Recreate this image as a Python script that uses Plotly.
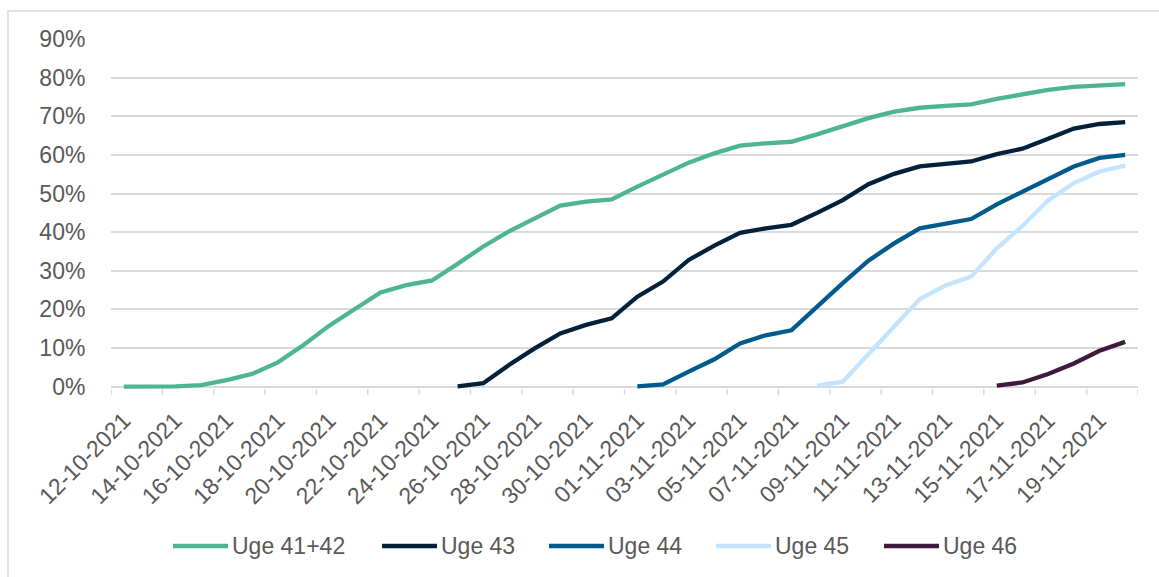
import plotly.graph_objects as go

# ---- data ----
dates = [
    "12-10-2021", "13-10-2021", "14-10-2021", "15-10-2021", "16-10-2021", "17-10-2021",
    "18-10-2021", "19-10-2021", "20-10-2021", "21-10-2021", "22-10-2021", "23-10-2021",
    "24-10-2021", "25-10-2021", "26-10-2021", "27-10-2021", "28-10-2021", "29-10-2021",
    "30-10-2021", "31-10-2021", "01-11-2021", "02-11-2021", "03-11-2021", "04-11-2021",
    "05-11-2021", "06-11-2021", "07-11-2021", "08-11-2021", "09-11-2021", "10-11-2021",
    "11-11-2021", "12-11-2021", "13-11-2021", "14-11-2021", "15-11-2021", "16-11-2021",
    "17-11-2021", "18-11-2021", "19-11-2021", "20-11-2021",
]

uge_41_42 = [0.0, 0.0, 0.1, 0.4, 1.7, 3.3, 6.3, 10.8, 15.8, 20.1,
             24.4, 26.3, 27.5, 31.8, 36.3, 40.2, 43.6, 46.9, 47.9, 48.5,
             51.8, 54.8, 58.0, 60.4, 62.4, 63.0, 63.4, 65.3, 67.3, 69.5,
             71.2, 72.2, 72.7, 73.1, 74.5, 75.6, 76.8, 77.6, 78.0, 78.3]
uge_43 = [None] * 13 + [0.1, 0.9, 5.6, 9.9, 13.8, 16.0, 17.7,
                         23.3, 27.2, 32.8, 36.5, 39.8, 41.0, 41.9, 45.0, 48.3, 52.4,
                         55.1, 57.0, 57.6, 58.3, 60.2, 61.6, 64.2, 66.8, 68.0, 68.5]
uge_44 = [None] * 20 + [0.1, 0.6, 3.9, 7.1, 11.2, 13.3, 14.6, 20.8, 26.8, 32.6,
                         37.1, 41.0, 42.1, 43.4, 47.2, 50.5, 54.0, 57.0, 59.2, 60.0]
uge_45 = [None] * 27 + [0.3, 1.3, 8.4,
                         15.5, 22.7, 26.2, 28.5, 35.8, 41.6, 48.2, 52.7, 55.7, 57.2]
uge_46 = [None] * 34 + [0.3, 1.1, 3.3, 6.0, 9.3, 11.6]

series_names = ["Uge 41+42", "Uge 43", "Uge 44", "Uge 45", "Uge 46"]
series_values = [uge_41_42, uge_43, uge_44, uge_45, uge_46]
series_colors = ["#4db690", "#03213a", "#005b8c", "#c2e4ff", "#3e1a3c"]

y_ticks = [0, 10, 20, 30, 40, 50, 60, 70, 80, 90]
y_tick_labels = [f"{v}%" for v in y_ticks]
x_tick_labels = dates[::2]

# ---- figure ----
W, H = 1159, 577
ML, MR, MT, MB = 111, 21, 39, 188
PW, PH = W - ML - MR, H - MT - MB

fig = go.Figure()
for name, vals, col in zip(series_names, series_values, series_colors):
    fig.add_trace(go.Scatter(
        x=dates, y=vals, name=name, mode="lines",
        line=dict(color=col, width=4.3),
        connectgaps=False, showlegend=False,
    ))

font_family = "Liberation Sans, Arial, sans-serif"
tick_color = "#595959"
grid_color = "#d9d9d9"

fig.update_layout(
    width=W, height=H,
    margin=dict(l=ML, r=MR, t=MT, b=MB),
    paper_bgcolor="white", plot_bgcolor="white",
    font=dict(family=font_family, size=22, color=tick_color),
    xaxis=dict(
        type="category", categoryorder="array", categoryarray=dates,
        range=[-0.5, len(dates) - 0.5],
        tickmode="array", tickvals=x_tick_labels, ticktext=x_tick_labels,
        tickangle=-45, showgrid=False, zeroline=False, showline=False,
        ticks="outside", ticklen=8, tickcolor="rgba(0,0,0,0)",
        tickfont=dict(size=23, color=tick_color),
    ),
    yaxis=dict(
        range=[-0.6, 90], tickmode="array", tickvals=y_ticks, ticktext=y_tick_labels,
        showgrid=True, gridcolor=grid_color, gridwidth=1.5,
        zeroline=False, showline=False, ticks="outside", ticklen=20,
        tickcolor="rgba(0,0,0,0)", tickfont=dict(size=23, color=tick_color),
    ),
)

# category-boundary tick marks every second category (Excel style)
tl = 6 / PH
for k in range(0, len(dates) + 1, 2):
    fig.add_shape(type="line", xref="x", yref="paper",
                  x0=k - 0.5, x1=k - 0.5, y0=0, y1=-tl,
                  line=dict(color=grid_color, width=1.5))

# outer chart border
fig.add_shape(type="rect", xref="paper", yref="paper",
              x0=(8 - ML) / PW, x1=(W + 20 - ML) / PW,
              y0=(MT + PH - 11) / PH, y1=-(MB + 20) / PH,
              line=dict(color=grid_color, width=1.5), fillcolor="rgba(0,0,0,0)",
              layer="below")

# legend (Excel style, long line samples)
leg_x = [173, 382, 549, 716, 884]
leg_y = (MT + PH - 546) / PH
for x0, name, col in zip(leg_x, series_names, series_colors):
    fig.add_shape(type="line", xref="paper", yref="paper",
                  x0=(x0 - ML) / PW, x1=(x0 + 55 - ML) / PW, y0=leg_y, y1=leg_y,
                  line=dict(color=col, width=4.5))
    fig.add_annotation(xref="paper", yref="paper", x=(x0 + 57 - ML) / PW, y=leg_y,
                       text=name, showarrow=False, xanchor="left", yanchor="middle",
                       font=dict(size=23, color=tick_color, family=font_family))

fig.write_html("out.html")
